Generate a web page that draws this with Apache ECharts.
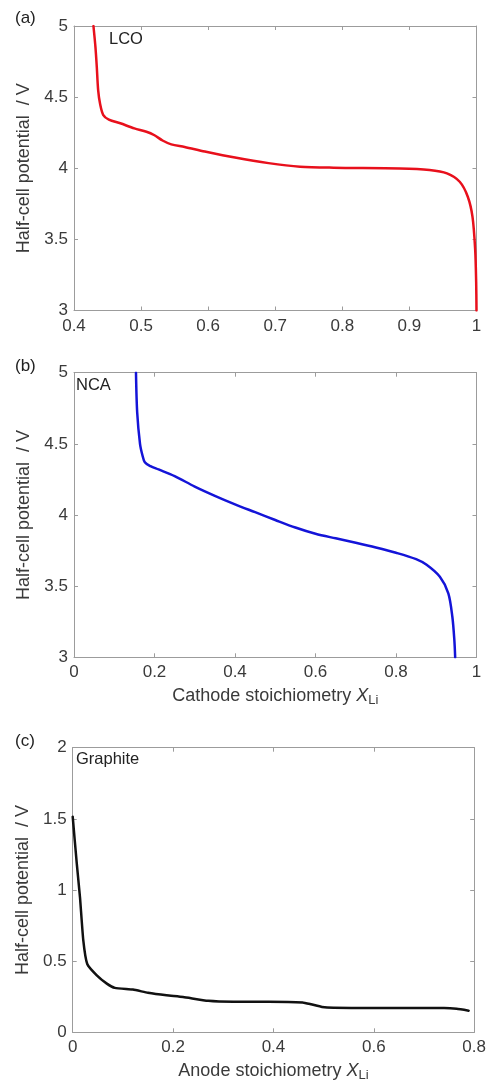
<!DOCTYPE html>
<html>
<head>
<meta charset="utf-8">
<title>Half-cell potential curves</title>
<script src="https://cdn.jsdelivr.net/npm/echarts@6/dist/echarts.min.js"></script>
<style>
  html, body { margin: 0; padding: 0; background: #ffffff; }
  #chart { width: 489px; height: 1088px; }
</style>
</head>
<body>
<div id="chart"></div>
<script>
// LCO cathode: stoichiometry vs potential (V)
const lcoX = [0.429, 0.432, 0.434, 0.436, 0.439, 0.4437, 0.452, 0.469, 0.490, 0.508, 0.520, 0.532, 0.545, 0.565, 0.595, 0.640, 0.690, 0.737, 0.787, 0.886, 0.930, 0.956, 0.975, 0.987, 0.994, 0.998, 0.9995, 1.0];
const lcoV = [5.0, 4.85, 4.71, 4.55, 4.45, 4.374, 4.342, 4.316, 4.280, 4.257, 4.232, 4.195, 4.168, 4.150, 4.118, 4.075, 4.036, 4.011, 4.004, 3.999, 3.988, 3.964, 3.905, 3.80, 3.66, 3.43, 3.2, 3.0];

// NCA cathode
const ncaX = [0.154, 0.157, 0.164, 0.170, 0.176, 0.190, 0.210, 0.250, 0.300, 0.350, 0.400, 0.450, 0.500, 0.550, 0.600, 0.650, 0.700, 0.750, 0.800, 0.850, 0.876, 0.909, 0.930, 0.940, 0.945, 0.947];
const ncaV = [5.0, 4.72, 4.50, 4.42, 4.37, 4.343, 4.320, 4.273, 4.200, 4.135, 4.075, 4.020, 3.965, 3.912, 3.868, 3.836, 3.805, 3.772, 3.735, 3.690, 3.650, 3.566, 3.450, 3.285, 3.12, 3.0];

// Graphite anode
const graphiteX = [0, 0.008, 0.0145, 0.021, 0.029, 0.048, 0.068, 0.084, 0.120, 0.150, 0.187, 0.220, 0.270, 0.320, 0.390, 0.458, 0.475, 0.497, 0.520, 0.590, 0.740, 0.765, 0.789];
const graphiteV = [1.515, 1.19, 0.95, 0.65, 0.48, 0.40, 0.342, 0.312, 0.300, 0.278, 0.260, 0.248, 0.221, 0.215, 0.215, 0.210, 0.197, 0.178, 0.172, 0.170, 0.170, 0.165, 0.152];

// Panel labels and material names
const panelLabels = ['(a)', '(b)', '(c)'];
const materialNames = ['LCO', 'NCA', 'Graphite'];
const yTitle = 'Half-cell potential  / V';
const cathodeTitle = 'Cathode stoichiometry ';
const anodeTitle = 'Anode stoichiometry ';

const FONT = '"Liberation Sans", Arial, Helvetica, sans-serif';
const TEXT = '#3a3a3a';
const BOX = '#9c9c9c';

function pairs(xs, ys) { return xs.map((x, i) => [x, ys[i]]); }

const grids = [
  { left: 74, right: 12.5, top: 26, height: 284.5 },
  { left: 74, right: 12.5, top: 372.7, height: 284.6 },
  { left: 72.7, right: 13.3, top: 747.7, height: 284.6 }
];

const xRanges = [
  { min: 0.4, max: 1, interval: 0.1 },
  { min: 0, max: 1, interval: 0.2 },
  { min: 0, max: 0.8, interval: 0.2 }
];
const yRanges = [
  { min: 3, max: 5, interval: 0.5 },
  { min: 3, max: 5, interval: 0.5 },
  { min: 0, max: 2, interval: 0.5 }
];
const xNames = [null, cathodeTitle, anodeTitle];

const subRich = {
  t: { fontSize: 18, color: TEXT, fontFamily: FONT, lineHeight: 22 },
  x: { fontSize: 18, color: TEXT, fontFamily: FONT, fontStyle: 'italic', lineHeight: 22 },
  s: { fontSize: 13, color: TEXT, fontFamily: FONT, padding: [10, 0, 0, 0] }
};

const xAxes = [];
const yAxes = [];
for (let i = 0; i < 3; i++) {
  const base = {
    type: 'value', gridIndex: i,
    min: xRanges[i].min, max: xRanges[i].max, interval: xRanges[i].interval,
    splitLine: { show: false },
    axisLine: { show: true, onZero: false, lineStyle: { color: BOX, width: 1 } },
    axisTick: { show: true, inside: true, length: 4, lineStyle: { color: BOX } }
  };
  const bottom = Object.assign({}, base, {
    position: 'bottom',
    axisLabel: { show: true, margin: 7, fontSize: 17, color: TEXT, fontFamily: FONT, showMinLabel: true, showMaxLabel: true }
  });
  if (xNames[i]) {
    Object.assign(bottom, {
      name: '{t|' + xNames[i] + '}{x|X}{s|Li}',
      nameLocation: 'middle',
      nameGap: 27,
      nameTextStyle: { rich: subRich }
    });
  }
  xAxes.push(bottom);
  xAxes.push(Object.assign({}, base, { position: 'top', axisLabel: { show: false } }));

  const ybase = {
    type: 'value', gridIndex: i,
    min: yRanges[i].min, max: yRanges[i].max, interval: yRanges[i].interval,
    splitLine: { show: false },
    axisLine: { show: true, onZero: false, lineStyle: { color: BOX, width: 1 } },
    axisTick: { show: true, inside: true, length: 4, lineStyle: { color: BOX } }
  };
  yAxes.push(Object.assign({}, ybase, {
    position: 'left',
    name: yTitle,
    nameLocation: 'middle',
    nameRotate: 90,
    nameGap: 32,
    nameTextStyle: { fontSize: 18, color: TEXT, fontFamily: FONT },
    axisLabel: { show: true, margin: 6, fontSize: 17, color: TEXT, fontFamily: FONT, showMinLabel: true, showMaxLabel: true }
  }));
  yAxes.push(Object.assign({}, ybase, { position: 'right', axisLabel: { show: false } }));
}

const curves = [
  { data: pairs(lcoX, lcoV), color: '#e8101c', smooth: 0.3 },
  { data: pairs(ncaX, ncaV), color: '#1414d8', smooth: 0.3 },
  { data: pairs(graphiteX, graphiteV), color: '#111111', smooth: 0.15 }
];

const series = curves.map((c, i) => ({
  type: 'line',
  xAxisIndex: i * 2,
  yAxisIndex: i * 2,
  data: c.data,
  showSymbol: false,
  smooth: c.smooth,
  lineStyle: { color: c.color, width: 2.5, cap: 'round', join: 'round' },
  silent: true,
  animation: false
}));

const labelTops = [10, 358, 733];
const nameSpots = [[109, 31], [76, 377], [76, 751]];
const graphic = [];
for (let i = 0; i < 3; i++) {
  graphic.push({
    type: 'text', left: 15, top: labelTops[i],
    style: { text: panelLabels[i], fontSize: 17, fill: '#222222', fontFamily: FONT }
  });
  graphic.push({
    type: 'text', left: nameSpots[i][0], top: nameSpots[i][1],
    style: { text: materialNames[i], fontSize: 16.5, fill: '#222222', fontFamily: FONT }
  });
}

const chart = echarts.init(document.getElementById('chart'), null, { renderer: 'canvas' });
chart.setOption({
  animation: false,
  backgroundColor: '#ffffff',
  grid: grids,
  xAxis: xAxes,
  yAxis: yAxes,
  series: series,
  graphic: graphic
});
</script>
</body>
</html>
